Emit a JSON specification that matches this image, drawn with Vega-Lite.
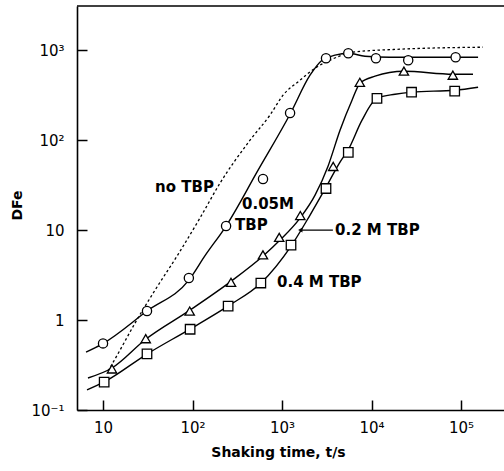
{
  "$schema": "https://vega.github.io/schema/vega-lite/v6.json",
  "width": 427,
  "height": 404,
  "autosize": "none",
  "padding": {"left": 77, "top": 6, "right": 0, "bottom": 61},
  "background": "white",
  "config": {
    "view": {"stroke": null},
    "font": "DejaVu Sans",
    "axis": {"grid": false, "domainColor": "black", "tickColor": "black", "domainWidth": 1.6, "tickWidth": 1.5, "labelColor": "black", "titleColor": "black", "labelFont": "DejaVu Sans", "titleFont": "DejaVu Sans"}
  },
  "datasets": {
    "points": [
      {"s": "0.05M", "x": 10, "y": 0.55},
      {"s": "0.05M", "x": 31, "y": 1.26},
      {"s": "0.05M", "x": 91, "y": 2.93},
      {"s": "0.05M", "x": 237, "y": 11.1},
      {"s": "0.05M", "x": 613, "y": 37},
      {"s": "0.05M", "x": 1230, "y": 200},
      {"s": "0.05M", "x": 3100, "y": 815},
      {"s": "0.05M", "x": 5500, "y": 926},
      {"s": "0.05M", "x": 11200, "y": 815},
      {"s": "0.05M", "x": 25700, "y": 774},
      {"s": "0.05M", "x": 87000, "y": 836},
      {"s": "0.2M", "x": 12.6, "y": 0.286},
      {"s": "0.2M", "x": 30, "y": 0.62},
      {"s": "0.2M", "x": 93, "y": 1.26},
      {"s": "0.2M", "x": 269, "y": 2.63},
      {"s": "0.2M", "x": 612, "y": 5.3},
      {"s": "0.2M", "x": 930, "y": 8.3},
      {"s": "0.2M", "x": 1600, "y": 14.5},
      {"s": "0.2M", "x": 3730, "y": 51},
      {"s": "0.2M", "x": 7400, "y": 440},
      {"s": "0.2M", "x": 23000, "y": 585},
      {"s": "0.2M", "x": 81000, "y": 527},
      {"s": "0.4M", "x": 10.3, "y": 0.204},
      {"s": "0.4M", "x": 31, "y": 0.42},
      {"s": "0.4M", "x": 94, "y": 0.79},
      {"s": "0.4M", "x": 250, "y": 1.43},
      {"s": "0.4M", "x": 580, "y": 2.58},
      {"s": "0.4M", "x": 1260, "y": 6.8},
      {"s": "0.4M", "x": 3100, "y": 29},
      {"s": "0.4M", "x": 5500, "y": 73},
      {"s": "0.4M", "x": 11500, "y": 292},
      {"s": "0.4M", "x": 28000, "y": 341},
      {"s": "0.4M", "x": 85000, "y": 350}
    ],
    "curves": [
      {"s": "0.05M", "x": 6.46, "y": 0.44},
      {"s": "0.05M", "x": 9.75, "y": 0.54},
      {"s": "0.05M", "x": 31, "y": 1.26},
      {"s": "0.05M", "x": 91.4, "y": 2.8},
      {"s": "0.05M", "x": 138, "y": 5.2},
      {"s": "0.05M", "x": 237, "y": 11.1},
      {"s": "0.05M", "x": 540, "y": 46.4},
      {"s": "0.05M", "x": 1228, "y": 194},
      {"s": "0.05M", "x": 2055, "y": 527},
      {"s": "0.05M", "x": 2800, "y": 774},
      {"s": "0.05M", "x": 3910, "y": 880},
      {"s": "0.05M", "x": 5460, "y": 926},
      {"s": "0.05M", "x": 8450, "y": 858},
      {"s": "0.05M", "x": 16100, "y": 836},
      {"s": "0.05M", "x": 155000, "y": 836},
      {"s": "0.2M", "x": 6.79, "y": 0.227},
      {"s": "0.2M", "x": 12.6, "y": 0.293},
      {"s": "0.2M", "x": 30.2, "y": 0.615},
      {"s": "0.2M", "x": 93.7, "y": 1.29},
      {"s": "0.2M", "x": 262, "y": 2.64},
      {"s": "0.2M", "x": 614, "y": 5.14},
      {"s": "0.2M", "x": 950, "y": 7.74},
      {"s": "0.2M", "x": 1589, "y": 13.6},
      {"s": "0.2M", "x": 2339, "y": 24.5},
      {"s": "0.2M", "x": 3266, "y": 51.4},
      {"s": "0.2M", "x": 4446, "y": 129},
      {"s": "0.2M", "x": 6053, "y": 278},
      {"s": "0.2M", "x": 7440, "y": 430},
      {"s": "0.2M", "x": 10950, "y": 514},
      {"s": "0.2M", "x": 23070, "y": 584},
      {"s": "0.2M", "x": 81500, "y": 541},
      {"s": "0.2M", "x": 136000, "y": 541},
      {"s": "0.4M", "x": 6.62, "y": 0.167},
      {"s": "0.4M", "x": 10.3, "y": 0.205},
      {"s": "0.4M", "x": 31, "y": 0.419},
      {"s": "0.4M", "x": 93.7, "y": 0.794},
      {"s": "0.4M", "x": 249, "y": 1.43},
      {"s": "0.4M", "x": 582, "y": 2.58},
      {"s": "0.4M", "x": 1262, "y": 6.64},
      {"s": "0.4M", "x": 2056, "y": 14.7},
      {"s": "0.4M", "x": 3103, "y": 30},
      {"s": "0.4M", "x": 4446, "y": 57},
      {"s": "0.4M", "x": 5460, "y": 77.4},
      {"s": "0.4M", "x": 7830, "y": 167},
      {"s": "0.4M", "x": 11500, "y": 293},
      {"s": "0.4M", "x": 18300, "y": 324},
      {"s": "0.4M", "x": 28400, "y": 342},
      {"s": "0.4M", "x": 85700, "y": 359},
      {"s": "0.4M", "x": 155000, "y": 388}
    ],
    "dotted": [
      {"x": 11.4, "y": 0.271},
      {"x": 15.5, "y": 0.464},
      {"x": 22.8, "y": 0.926},
      {"x": 38.1, "y": 2.15},
      {"x": 67.1, "y": 5.14},
      {"x": 121, "y": 13.6},
      {"x": 203, "y": 33.3},
      {"x": 439, "y": 100},
      {"x": 734, "y": 190},
      {"x": 1026, "y": 316},
      {"x": 1589, "y": 464},
      {"x": 2339, "y": 631},
      {"x": 3437, "y": 774},
      {"x": 6210, "y": 950},
      {"x": 20800, "y": 1026},
      {"x": 176000, "y": 1080}
    ],
    "labels": [
      {"x": 38.1, "y": 30, "t": "no TBP"},
      {"x": 357, "y": 19.5, "t": "0.05M"},
      {"x": 298, "y": 11.4, "t": "TBP"},
      {"x": 3910, "y": 10, "t": "0.2  M  TBP"},
      {"x": 879, "y": 2.64, "t": "0.4  M  TBP"}
    ],
    "leader": [
      {"x": 1600, "x2": 3700, "y": 10}
    ],
    "frame": [
      {"y": 3100}
    ]
  },
  "layer": [
    {
      "data": {"name": "curves"},
      "mark": {"type": "line", "interpolate": "monotone", "color": "black", "strokeWidth": 1.4},
      "encoding": {
        "detail": {"field": "s"},
        "x": {"field": "x", "type": "quantitative", "scale": {"type": "log", "domain": [5.12, 302000], "nice": false},
          "axis": {"values": [10, 100, 1000, 10000, 100000], "labelExpr": "datum.value == 10 ? '10' : datum.value == 100 ? '10²' : datum.value == 1000 ? '10³' : datum.value == 10000 ? '10⁴' : '10⁵'", "tickSize": -10, "labelPadding": 20, "labelFontSize": 15, "labelFlush": false, "title": "Shaking time, t/s", "titleFontSize": 14, "titleFontWeight": "bold", "titlePadding": 10, "titleX": 201}},
        "y": {"field": "y", "type": "quantitative", "scale": {"type": "log", "domain": [0.1, 3100], "nice": false},
          "axis": {"values": [0.1, 1, 10, 100, 1000], "labelExpr": "datum.value == 0.1 ? '10⁻¹' : datum.value == 1 ? '1' : datum.value == 10 ? '10' : datum.value == 100 ? '10²' : '10³'", "tickSize": -10, "labelPadding": 23, "labelFontSize": 15, "labelFlush": false, "title": "DFe", "titleFontSize": 14, "titleFontWeight": "bold", "titlePadding": 6, "titleY": 199}}
      }
    },
    {
      "data": {"name": "dotted"},
      "mark": {"type": "line", "interpolate": "monotone", "color": "black", "strokeWidth": 1.3, "strokeDash": [2.5, 2.5]},
      "encoding": {
        "x": {"field": "x", "type": "quantitative", "scale": {"type": "log", "domain": [5.12, 302000], "nice": false}},
        "y": {"field": "y", "type": "quantitative", "scale": {"type": "log", "domain": [0.1, 3100], "nice": false}}
      }
    },
    {
      "data": {"name": "leader"},
      "mark": {"type": "rule", "color": "black", "strokeWidth": 1.4},
      "encoding": {
        "x": {"field": "x", "type": "quantitative", "scale": {"type": "log", "domain": [5.12, 302000], "nice": false}},
        "x2": {"field": "x2"},
        "y": {"field": "y", "type": "quantitative", "scale": {"type": "log", "domain": [0.1, 3100], "nice": false}}
      }
    },
    {
      "data": {"name": "leader"},
      "mark": {"type": "point", "shape": "triangle-left", "filled": true, "color": "black", "size": 25, "opacity": 1},
      "encoding": {
        "x": {"field": "x", "type": "quantitative", "scale": {"type": "log", "domain": [5.12, 302000], "nice": false}},
        "y": {"field": "y", "type": "quantitative", "scale": {"type": "log", "domain": [0.1, 3100], "nice": false}}
      }
    },
    {
      "data": {"name": "points"},
      "mark": {"type": "point", "filled": true, "fill": "white", "stroke": "black", "strokeWidth": 1.3, "opacity": 1},
      "encoding": {
        "x": {"field": "x", "type": "quantitative", "scale": {"type": "log", "domain": [5.12, 302000], "nice": false}},
        "y": {"field": "y", "type": "quantitative", "scale": {"type": "log", "domain": [0.1, 3100], "nice": false}},
        "shape": {"field": "s", "type": "nominal", "scale": {"domain": ["0.05M", "0.2M", "0.4M"], "range": ["circle", "triangle-up", "square"]}, "legend": null},
        "size": {"field": "s", "type": "nominal", "scale": {"domain": ["0.05M", "0.2M", "0.4M"], "range": [85, 90, 70]}, "legend": null}
      }
    },
    {
      "data": {"name": "labels"},
      "mark": {"type": "text", "font": "DejaVu Sans", "fontSize": 15, "fontWeight": "bold", "baseline": "middle", "align": "left", "color": "black"},
      "encoding": {
        "x": {"field": "x", "type": "quantitative", "scale": {"type": "log", "domain": [5.12, 302000], "nice": false}},
        "y": {"field": "y", "type": "quantitative", "scale": {"type": "log", "domain": [0.1, 3100], "nice": false}},
        "text": {"field": "t"}
      }
    },
    {
      "data": {"name": "frame"},
      "mark": {"type": "rule", "color": "black", "strokeWidth": 1.6},
      "encoding": {
        "y": {"field": "y", "type": "quantitative", "scale": {"type": "log", "domain": [0.1, 3100], "nice": false}}
      }
    }
  ]
}
